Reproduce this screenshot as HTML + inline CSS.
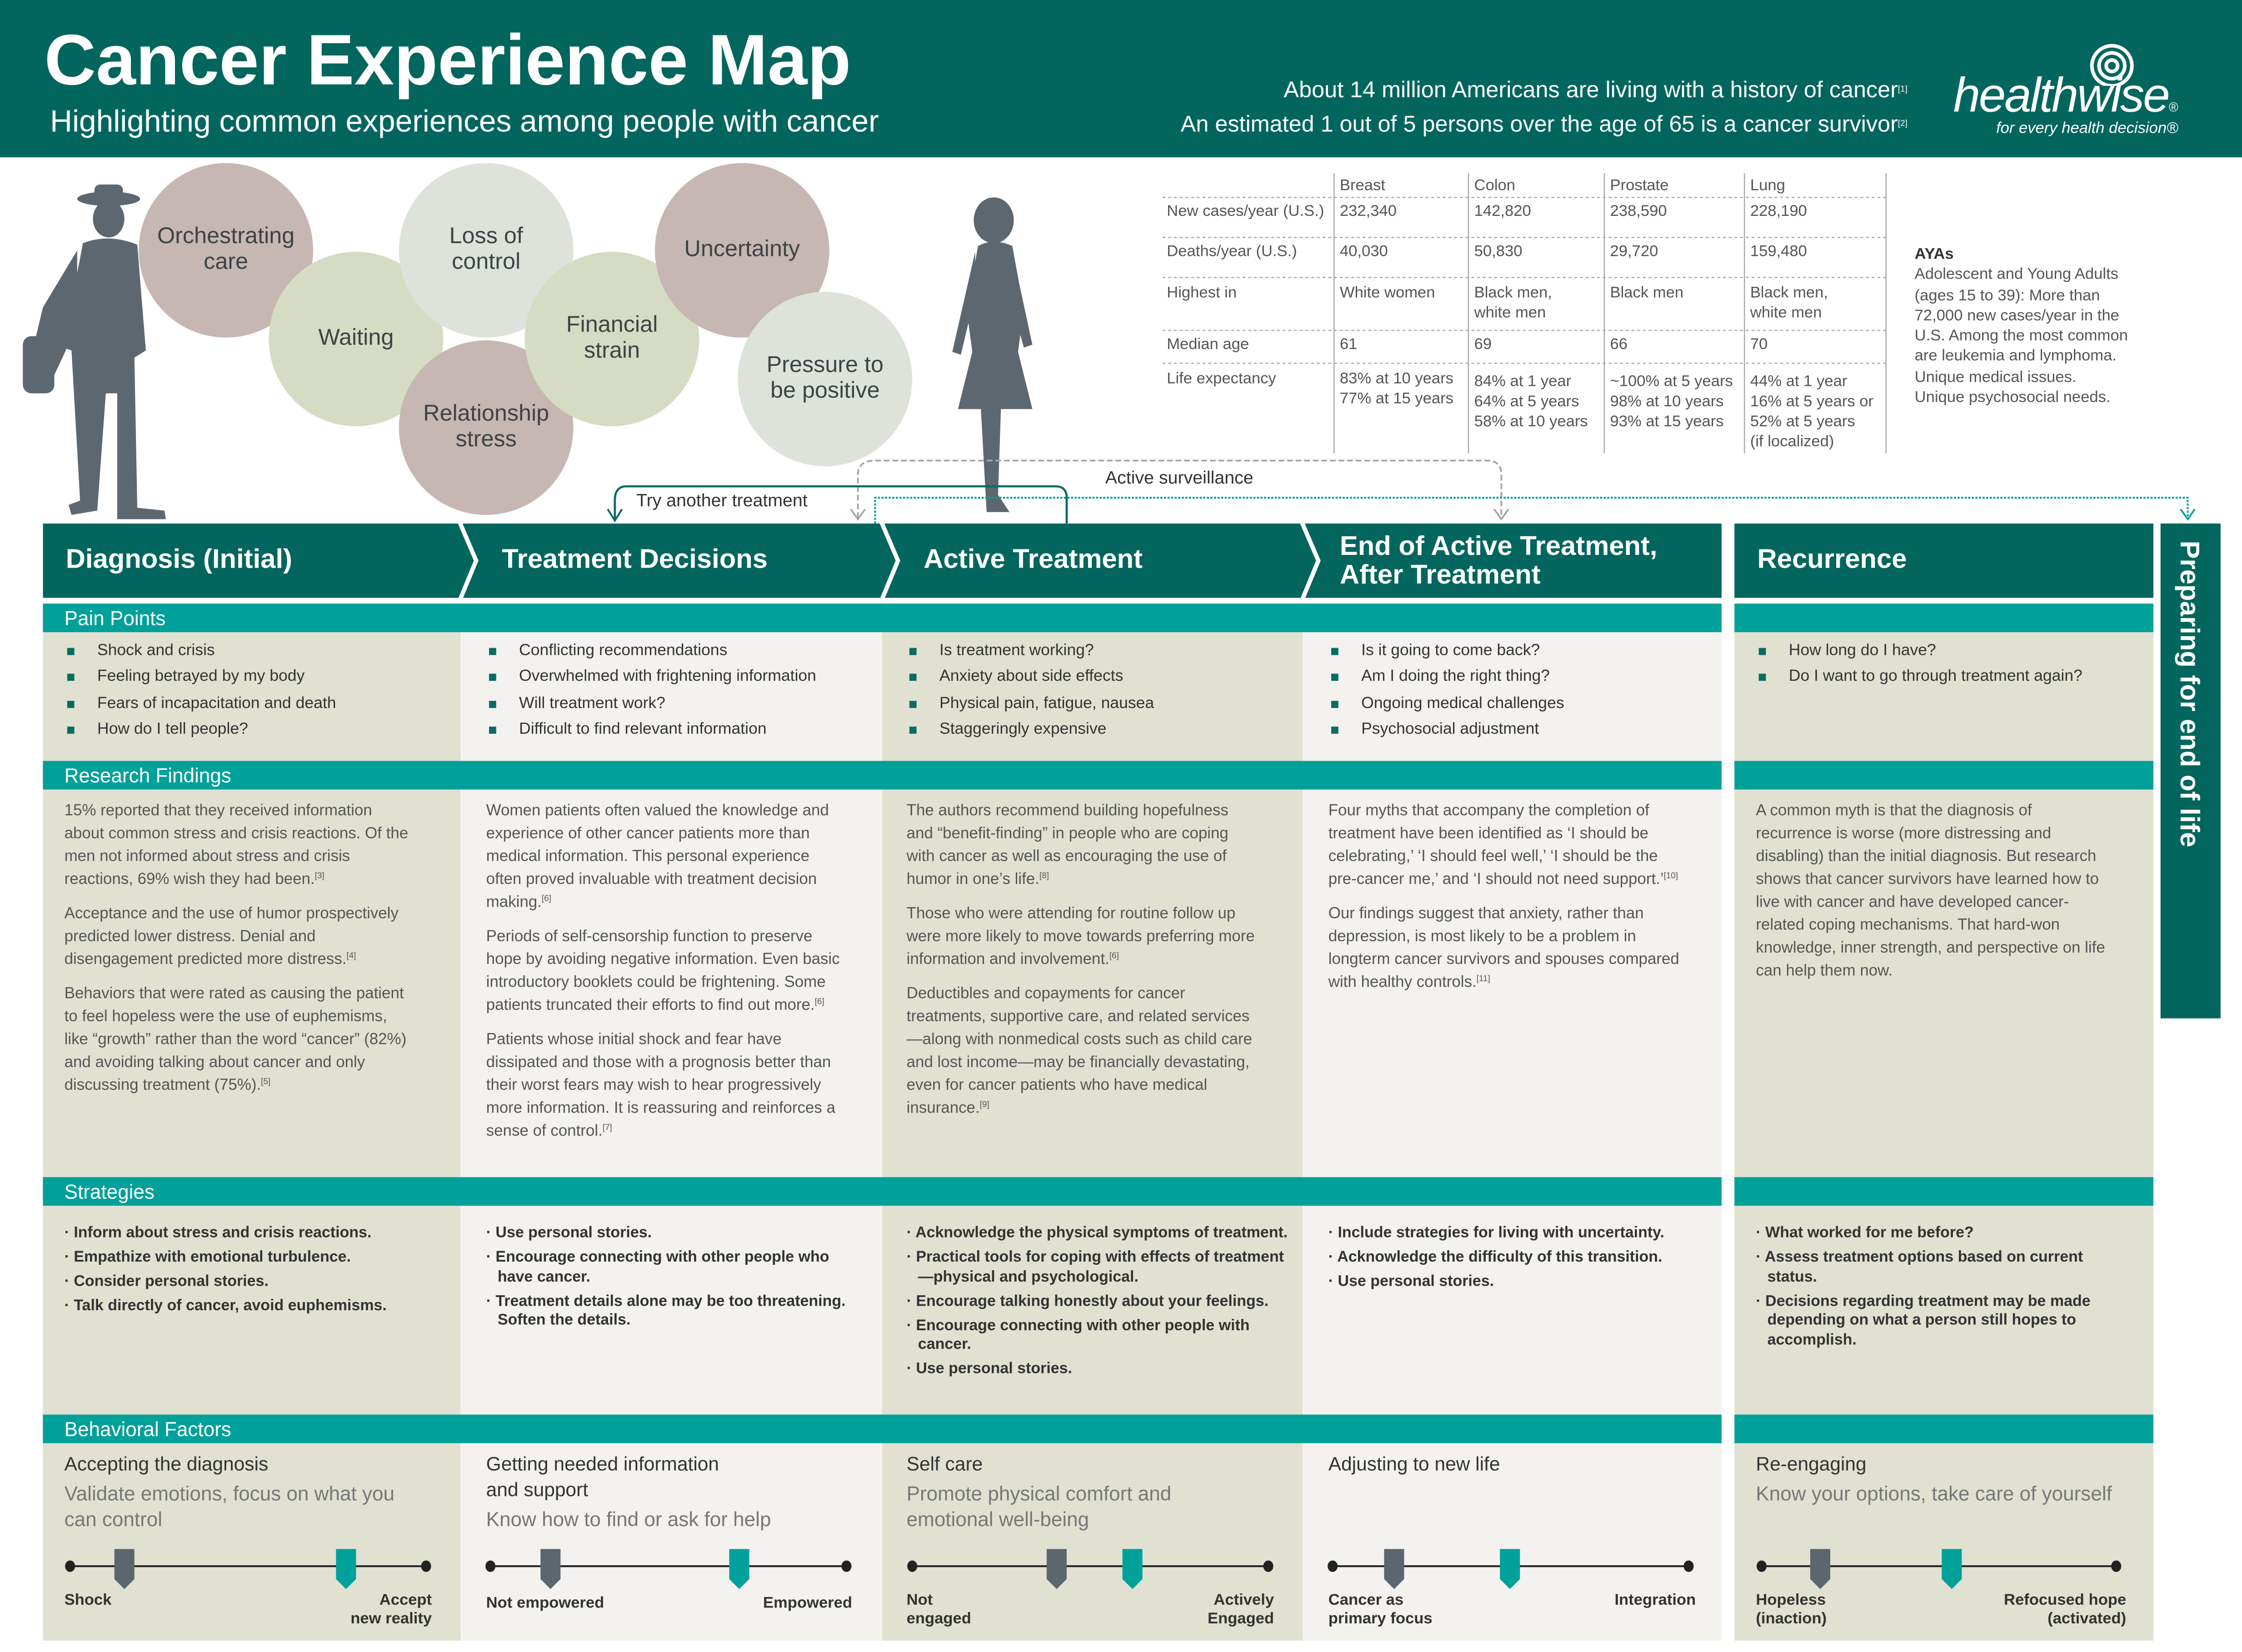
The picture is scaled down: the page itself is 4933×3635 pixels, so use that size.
<!DOCTYPE html>
<html><head><meta charset="utf-8"><style>
html,body{margin:0;padding:0;width:4933px;height:3635px;overflow:hidden;background:#fff}
#s{position:absolute;left:0;top:0;width:1568px;height:1155px;transform-origin:0 0;transform:scale(3.1461,3.1472);font-family:"Liberation Sans",sans-serif;color:#444}
.a{position:absolute}
.c{position:absolute;border-radius:50%;display:flex;align-items:center;justify-content:center;text-align:center;font-size:16px;line-height:18px;color:#3d4347}
.bar{position:absolute;height:20px;background:#00a19a;color:#fff;font-size:14px;line-height:20px;padding-left:15px;box-sizing:border-box}
.col{position:absolute}
.pp{position:absolute;font-size:11.3px;line-height:18.3px;color:#333}
.pp div{position:relative;padding-left:23px}
.pp div:before{content:"";position:absolute;left:2px;top:7px;width:5px;height:5px;background:#0b6b63}
.rf{position:absolute;font-size:11.1px;line-height:16px;color:#555;width:252px}
.rf p{margin:0 0 8px}
sup{font-size:6px;line-height:0;vertical-align:4px}
.st{position:absolute;font-size:10.8px;line-height:13.5px;color:#333;font-weight:bold;width:258px}
.st div{padding-left:8px;text-indent:-8px;margin-bottom:3.5px}
.bt{position:absolute;font-size:13.5px;line-height:18px;color:#333;width:255px}
.bs{font-size:14px;color:#777;line-height:18px;margin-top:2px}
.lab{position:absolute;font-size:11px;line-height:12.5px;color:#333;font-weight:bold}
</style></head><body><div id="s">
<div class="a" style="left:0;top:0;width:1568px;height:110px;background:#03665e"></div>
<div class="a" style="left:31px;top:12px;font-size:50px;font-weight:bold;color:#fff;line-height:60px">Cancer Experience Map</div>
<div class="a" style="left:35px;top:73px;font-size:21.5px;color:#fff">Highlighting common experiences among people with cancer</div>
<div class="a" style="right:234px;top:52px;font-size:16px;color:#fff;text-align:right;line-height:24px">About 14 million Americans are living with a history of cancer<sup>[1]</sup><br>An estimated 1 out of 5 persons over the age of 65 is a cancer survivor<sup>[2]</sup></div>
<div class="a" style="left:1366px;top:48px;font-size:34px;font-style:italic;color:#fff;letter-spacing:-1px">healthwise<span style="font-size:9px">®</span></div>
<div class="a" style="left:1396px;top:84px;font-size:11px;font-style:italic;color:#fff">for every health decision®</div>
<svg class="a" style="left:1455px;top:24px" width="40" height="36"><g fill="none" stroke="#fff" stroke-width="2.5"><circle cx="22" cy="22" r="4"/><circle cx="22" cy="22" r="9"/><circle cx="22" cy="22" r="14"/></g></svg>

<div class="c" style="left:97px;top:114px;width:122px;height:122px;background:#c6b7b3">Orchestrating<br>care</div>
<div class="c" style="left:188px;top:176px;width:122px;height:122px;background:#d5dcc3">Waiting</div>
<div class="c" style="left:279px;top:114px;width:122px;height:122px;background:#dde3da">Loss of<br>control</div>
<div class="c" style="left:279px;top:238px;width:122px;height:122px;background:#c6b7b3">Relationship<br>stress</div>
<div class="c" style="left:367px;top:176px;width:122px;height:122px;background:#d5dcc3">Financial<br>strain</div>
<div class="c" style="left:458px;top:114px;width:122px;height:122px;background:#c6b7b3">Uncertainty</div>
<div class="c" style="left:516px;top:204px;width:122px;height:122px;background:#dde3da">Pressure to<br>be positive</div>

<svg class="a" style="left:10px;top:125px" width="115" height="240"><g fill="#5d6770">
<ellipse cx="66" cy="14" rx="22" ry="5"/><rect x="56" y="4" width="20" height="12" rx="4"/>
<ellipse cx="66" cy="28" rx="11" ry="13"/>
<path d="M48 45 Q66 38 86 46 L92 120 L84 125 L86 230 L105 232 L106 238 L72 238 L72 150 L64 150 L58 232 L40 235 L38 228 L46 225 L40 120 L34 118 Z"/>
<path d="M44 50 L20 90 L8 140 L22 150 L36 120 L44 90 Z"/>
<rect x="6" y="110" width="22" height="40" rx="6"/></g></svg>
<svg class="a" style="left:660px;top:136px" width="70" height="230"><g fill="#5d6770">
<ellipse cx="35" cy="18" rx="14" ry="16"/>
<path d="M24 36 Q35 30 48 36 L56 80 L52 110 L62 150 L40 150 L38 210 L46 222 L30 222 L26 150 L10 150 L20 110 L16 80 Z"/>
<path d="M22 40 L6 110 L12 112 L22 70 Z"/><path d="M48 40 L62 105 L56 107 L46 70 Z"/></g></svg>

<div class="a" style="left:813px;top:121px;width:507px">
<svg class="a" style="left:0;top:0" width="507" height="200"><g stroke="#aaa" stroke-dasharray="2,2" stroke-width="0.8">
<line x1="0" y1="17" x2="507" y2="17"/><line x1="0" y1="45" x2="507" y2="45"/><line x1="0" y1="73" x2="507" y2="73"/><line x1="0" y1="110" x2="507" y2="110"/><line x1="0" y1="133" x2="507" y2="133"/></g>
<g stroke="#aaa" stroke-width="0.8"><line x1="120" y1="0" x2="120" y2="196"/><line x1="214" y1="0" x2="214" y2="196"/><line x1="309" y1="0" x2="309" y2="196"/><line x1="407" y1="0" x2="407" y2="196"/><line x1="506" y1="0" x2="506" y2="196"/></g></svg>
<div class="a" style="font-size:11px;color:#555;line-height:14px;left:0;top:0;width:507px">
<div class="a" style="left:124px;top:2px">Breast</div><div class="a" style="left:218px;top:2px">Colon</div><div class="a" style="left:313px;top:2px">Prostate</div><div class="a" style="left:411px;top:2px">Lung</div>
<div class="a" style="left:3px;top:20px">New cases/year (U.S.)</div><div class="a" style="left:124px;top:20px">232,340</div><div class="a" style="left:218px;top:20px">142,820</div><div class="a" style="left:313px;top:20px">238,590</div><div class="a" style="left:411px;top:20px">228,190</div>
<div class="a" style="left:3px;top:48px">Deaths/year (U.S.)</div><div class="a" style="left:124px;top:48px">40,030</div><div class="a" style="left:218px;top:48px">50,830</div><div class="a" style="left:313px;top:48px">29,720</div><div class="a" style="left:411px;top:48px">159,480</div>
<div class="a" style="left:3px;top:77px">Highest in</div><div class="a" style="left:124px;top:77px">White women</div><div class="a" style="left:218px;top:77px">Black men,<br>white men</div><div class="a" style="left:313px;top:77px">Black men</div><div class="a" style="left:411px;top:77px">Black men,<br>white men</div>
<div class="a" style="left:3px;top:113px">Median age</div><div class="a" style="left:124px;top:113px">61</div><div class="a" style="left:218px;top:113px">69</div><div class="a" style="left:313px;top:113px">66</div><div class="a" style="left:411px;top:113px">70</div>
<div class="a" style="left:3px;top:137px">Life expectancy</div><div class="a" style="left:124px;top:137px">83% at 10 years<br>77% at 15 years</div><div class="a" style="left:218px;top:139px">84% at 1 year<br>64% at 5 years<br>58% at 10 years</div><div class="a" style="left:313px;top:139px">~100% at 5 years<br>98% at 10 years<br>93% at 15 years</div><div class="a" style="left:411px;top:139px">44% at 1 year<br>16% at 5 years or<br>52% at 5 years<br>(if localized)</div>
</div></div>
<div class="a" style="left:1339px;top:171px;font-size:11px;line-height:14.3px;color:#555;width:150px"><b style="color:#333">AYAs</b><br>Adolescent and Young Adults (ages 15 to 39): More than 72,000 new cases/year in the U.S. Among the most common are leukemia and lymphoma. Unique medical issues. Unique psychosocial needs.</div>

<svg class="a" style="left:0;top:0" width="1568" height="370"><g fill="none">
<path d="M600 362 L600 332 Q600 322 612 322 L1040 322 Q1050 322 1050 332 L1050 362" stroke="#a0a5aa" stroke-width="1.2" stroke-dasharray="4,2"/>
<path d="M595 356 L600 363 L605 356 M1045 356 L1050 363 L1055 356" stroke="#a0a5aa" stroke-width="1.2"/>
<path d="M612 366 L612 348 L1530 348 L1530 362" stroke="#00a19a" stroke-width="1.3" stroke-dasharray="1.5,1"/>
<path d="M1525 356 L1530 363 L1535 356" stroke="#00a19a" stroke-width="1.2"/>
<path d="M746 366 L746 348 Q746 340 738 340 L438 340 Q430 340 430 350 L430 364" stroke="#0b6b63" stroke-width="1.5"/>
<path d="M425 356 L430 364 L435 356" stroke="#0b6b63" stroke-width="1.3"/></g></svg>
<div class="a" style="left:445px;top:343px;font-size:12.5px;color:#333">Try another treatment</div>
<div class="a" style="left:773px;top:327px;font-size:12.5px;color:#333">Active surveillance</div>

<div class="col" style="left:30px;top:442px;width:292px;height:705px;background:#e1e1d2"></div>
<div class="col" style="left:322px;top:442px;width:295px;height:705px;background:#f3f2ee"></div>
<div class="col" style="left:617px;top:442px;width:294px;height:705px;background:#e1e1d2"></div>
<div class="col" style="left:911px;top:442px;width:293px;height:705px;background:#f3f2ee"></div>
<div class="col" style="left:1213px;top:442px;width:293px;height:705px;background:#e1e1d2"></div>

<svg class="a" style="left:30px;top:366px" width="1480" height="53">
<path d="M0 0 L1174 0 L1174 52 L0 52 Z" fill="#03665e"/>
<path d="M1183 0 L1476 0 L1476 52 L1183 52 Z" fill="#03665e"/>
<g fill="none" stroke="#fff" stroke-width="3"><path d="M291 -2 L303 26 L291 55"/><path d="M586 -2 L598 26 L586 55"/><path d="M880 -2 L892 26 L880 55"/></g></svg>
<div class="a" style="left:46px;top:381px;font-size:19px;color:#fff;font-weight:bold">Diagnosis (Initial)</div>
<div class="a" style="left:351px;top:381px;font-size:19px;color:#fff;font-weight:bold">Treatment Decisions</div>
<div class="a" style="left:646px;top:381px;font-size:19px;color:#fff;font-weight:bold">Active Treatment</div>
<div class="a" style="left:937px;top:373px;font-size:19px;color:#fff;font-weight:bold;line-height:20px">End of Active Treatment,<br>After Treatment</div>
<div class="a" style="left:1229px;top:381px;font-size:19px;color:#fff;font-weight:bold">Recurrence</div>
<div class="a" style="left:1511px;top:366px;width:42px;height:346px;background:#03665e"></div>
<div class="a" style="left:1519px;top:378px;writing-mode:vertical-rl;font-size:19px;color:#fff;font-weight:bold">Preparing for end of life</div>

<div class="bar" style="left:30px;top:422px;width:1174px">Pain Points</div><div class="bar" style="left:1213px;top:422px;width:293px"></div>
<div class="bar" style="left:30px;top:532px;width:1174px">Research Findings</div><div class="bar" style="left:1213px;top:532px;width:293px"></div>
<div class="bar" style="left:30px;top:823px;width:1174px">Strategies</div><div class="bar" style="left:1213px;top:823px;width:293px"></div>
<div class="bar" style="left:30px;top:989px;width:1174px">Behavioral Factors</div><div class="bar" style="left:1213px;top:989px;width:293px"></div>

<div class="pp" style="left:45px;top:446px"><div>Shock and crisis</div><div>Feeling betrayed by my body</div><div>Fears of incapacitation and death</div><div>How do I tell people?</div></div>
<div class="pp" style="left:340px;top:446px"><div>Conflicting recommendations</div><div>Overwhelmed with frightening information</div><div>Will treatment work?</div><div>Difficult to find relevant information</div></div>
<div class="pp" style="left:634px;top:446px"><div>Is treatment working?</div><div>Anxiety about side effects</div><div>Physical pain, fatigue, nausea</div><div>Staggeringly expensive</div></div>
<div class="pp" style="left:929px;top:446px"><div>Is it going to come back?</div><div>Am I doing the right thing?</div><div>Ongoing medical challenges</div><div>Psychosocial adjustment</div></div>
<div class="pp" style="left:1228px;top:446px"><div>How long do I have?</div><div>Do I want to go through treatment again?</div></div>

<div class="rf" style="left:45px;top:559px;width:245px"><p>15% reported that they received information about common stress and crisis reactions. Of the men not informed about stress and crisis reactions, 69% wish they had been.<sup>[3]</sup></p><p>Acceptance and the use of humor prospectively predicted lower distress. Denial and disengagement predicted more distress.<sup>[4]</sup></p><p>Behaviors that were rated as causing the patient to feel hopeless were the use of euphemisms, like “growth” rather than the word “cancer” (82%) and avoiding talking about cancer and only discussing treatment (75%).<sup>[5]</sup></p></div>
<div class="rf" style="left:340px;top:559px"><p>Women patients often valued the knowledge and experience of other cancer patients more than medical information. This personal experience often proved invaluable with treatment decision making.<sup>[6]</sup></p><p>Periods of self-censorship function to preserve hope by avoiding negative information. Even basic introductory booklets could be frightening. Some patients truncated their efforts to find out more.<sup>[6]</sup></p><p>Patients whose initial shock and fear have dissipated and those with a prognosis better than their worst fears may wish to hear progressively more information. It is reassuring and reinforces a sense of control.<sup>[7]</sup></p></div>
<div class="rf" style="left:634px;top:559px;width:245px"><p>The authors recommend building hopefulness and “benefit-finding” in people who are coping with cancer as well as encouraging the use of humor in one’s life.<sup>[8]</sup></p><p>Those who were attending for routine follow up were more likely to move towards preferring more information and involvement.<sup>[6]</sup></p><p>Deductibles and copayments for cancer treatments, supportive care, and related services—along with nonmedical costs such as child care and lost income—may be financially devastating, even for cancer patients who have medical insurance.<sup>[9]</sup></p></div>
<div class="rf" style="left:929px;top:559px;width:250px"><p>Four myths that accompany the completion of treatment have been identified as ‘I should be celebrating,’ ‘I should feel well,’ ‘I should be the pre-cancer me,’ and ‘I should not need support.’<sup>[10]</sup></p><p>Our findings suggest that anxiety, rather than depression, is most likely to be a problem in longterm cancer survivors and spouses compared with healthy controls.<sup>[11]</sup></p></div>
<div class="rf" style="left:1228px;top:559px;width:245px"><p>A common myth is that the diagnosis of recurrence is worse (more distressing and disabling) than the initial diagnosis. But research shows that cancer survivors have learned how to live with cancer and have developed cancer-related coping mechanisms. That hard-won knowledge, inner strength, and perspective on life can help them now.</p></div>

<div class="st" style="left:45px;top:856px"><div>· Inform about stress and crisis reactions.</div><div>· Empathize with emotional turbulence.</div><div>· Consider personal stories.</div><div>· Talk directly of cancer, avoid euphemisms.</div></div>
<div class="st" style="left:340px;top:856px"><div>· Use personal stories.</div><div>· Encourage connecting with other people who have cancer.</div><div>· Treatment details alone may be too threatening. Soften the details.</div></div>
<div class="st" style="left:634px;top:856px;width:268px"><div>· Acknowledge the physical symptoms of treatment.</div><div>· Practical tools for coping with effects of treatment—physical and psychological.</div><div>· Encourage talking honestly about your feelings.</div><div>· Encourage connecting with other people with cancer.</div><div>· Use personal stories.</div></div>
<div class="st" style="left:929px;top:856px"><div>· Include strategies for living with uncertainty.</div><div>· Acknowledge the difficulty of this transition.</div><div>· Use personal stories.</div></div>
<div class="st" style="left:1228px;top:856px;width:250px"><div>· What worked for me before?</div><div>· Assess treatment options based on current status.</div><div>· Decisions regarding treatment may be made depending on what a person still hopes to accomplish.</div></div>

<div class="bt" style="left:45px;top:1015px;width:248px">Accepting the diagnosis<div class="bs">Validate emotions, focus on what you can control</div></div>
<div class="bt" style="left:340px;top:1015px">Getting needed information<br>and support<div class="bs">Know how to find or ask for help</div></div>
<div class="bt" style="left:634px;top:1015px;width:230px">Self care<div class="bs">Promote physical comfort and emotional well-being</div></div>
<div class="bt" style="left:929px;top:1015px">Adjusting to new life</div>
<div class="bt" style="left:1228px;top:1015px;width:275px">Re-engaging<div class="bs">Know your options, take care of yourself</div></div>

<svg class="a" style="left:0;top:1075px" width="1568" height="40">
<defs><g id="g"><path d="M0 0 h14 v21 l-7 7 l-7 -7 z"/></g></defs>
<g stroke="#222" stroke-width="1.3"><line x1="49" y1="20" x2="298" y2="20"/><line x1="343" y1="20" x2="592" y2="20"/><line x1="638" y1="20" x2="887" y2="20"/><line x1="932" y1="20" x2="1181" y2="20"/><line x1="1232" y1="20" x2="1480" y2="20"/></g>
<g fill="#222"><ellipse cx="49" cy="20" rx="3.5" ry="4"/><ellipse cx="298" cy="20" rx="3.5" ry="4"/><ellipse cx="343" cy="20" rx="3.5" ry="4"/><ellipse cx="592" cy="20" rx="3.5" ry="4"/><ellipse cx="638" cy="20" rx="3.5" ry="4"/><ellipse cx="887" cy="20" rx="3.5" ry="4"/><ellipse cx="932" cy="20" rx="3.5" ry="4"/><ellipse cx="1181" cy="20" rx="3.5" ry="4"/><ellipse cx="1232" cy="20" rx="3.5" ry="4"/><ellipse cx="1480" cy="20" rx="3.5" ry="4"/></g>
<g fill="#5b666e"><use href="#g" x="80" y="8"/><use href="#g" x="378" y="8"/><use href="#g" x="732" y="8"/><use href="#g" x="968" y="8"/><use href="#g" x="1266" y="8"/></g>
<g fill="#00a19a"><use href="#g" x="235" y="8"/><use href="#g" x="510" y="8"/><use href="#g" x="785" y="8"/><use href="#g" x="1049" y="8"/><use href="#g" x="1358" y="8"/></g>
</svg>
<div class="lab" style="left:45px;top:1113px">Shock</div>
<div class="lab" style="left:200px;top:1113px;width:102px;text-align:right">Accept<br>new reality</div>
<div class="lab" style="left:340px;top:1115px">Not empowered</div>
<div class="lab" style="left:496px;top:1115px;width:100px;text-align:right">Empowered</div>
<div class="lab" style="left:634px;top:1113px">Not<br>engaged</div>
<div class="lab" style="left:791px;top:1113px;width:100px;text-align:right">Actively<br>Engaged</div>
<div class="lab" style="left:929px;top:1113px">Cancer as<br>primary focus</div>
<div class="lab" style="left:1086px;top:1113px;width:100px;text-align:right">Integration</div>
<div class="lab" style="left:1228px;top:1113px">Hopeless<br>(inaction)</div>
<div class="lab" style="left:1367px;top:1113px;width:120px;text-align:right">Refocused hope<br>(activated)</div>
</div></body></html>
